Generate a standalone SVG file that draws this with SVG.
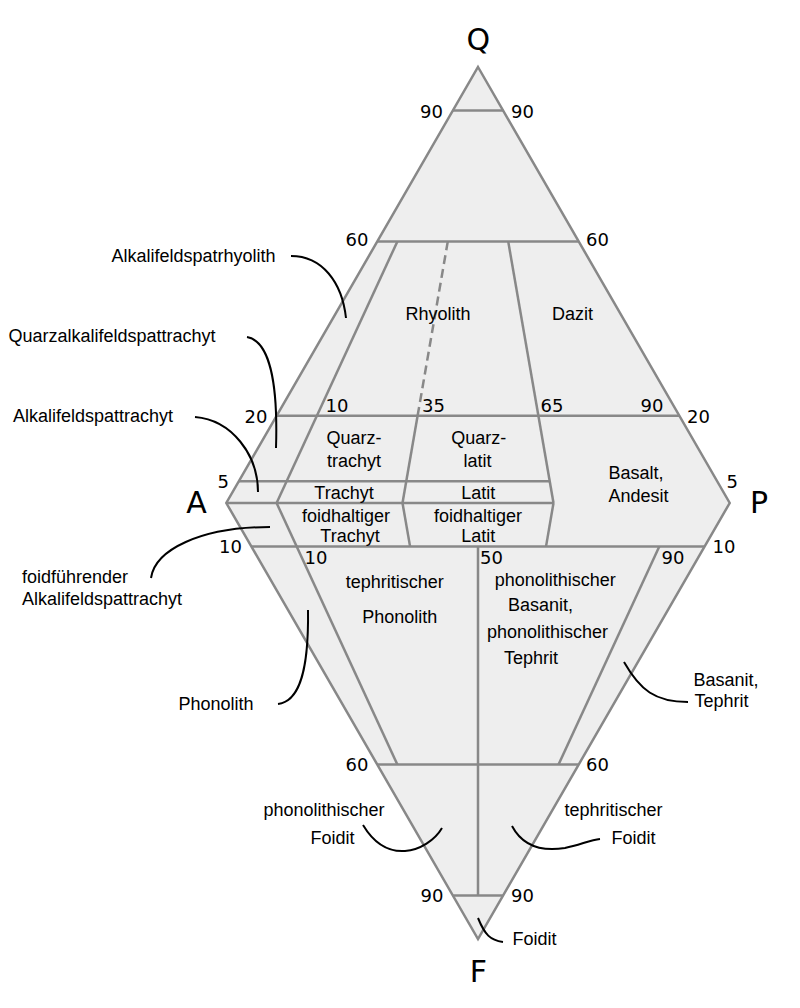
<svg xmlns="http://www.w3.org/2000/svg" width="800" height="1008" viewBox="0 0 800 1008">
<style>
.fld{fill:#eeeeee;stroke:#888888;stroke-width:2.5;stroke-linejoin:miter}
.ln{fill:none;stroke:#888888;stroke-width:2.5}
.dash{fill:none;stroke:#888888;stroke-width:2.5;stroke-dasharray:9,5}
.lead{fill:none;stroke:#000000;stroke-width:2}
.num{font-family:"DejaVu Sans",sans-serif;font-size:18px;fill:#000}
.vtx{font-family:"DejaVu Sans",sans-serif;font-size:30px;fill:#000;text-anchor:middle}
.lbl{font-family:"Liberation Sans",Arial,sans-serif;font-size:18px;fill:#000}
.mid{text-anchor:middle}
</style>
<rect width="800" height="1008" fill="#ffffff"/>
<g id="diagram-field">
<polygon class="fld" points="478,67 729.7,503 478,939 226.3,503"/>
</g>
<g id="connectors">
<line class="ln" x1="452.8" y1="110.6" x2="503.2" y2="110.6"/>
<line class="ln" x1="377.3" y1="241.4" x2="578.7" y2="241.4"/>
<line class="ln" x1="276.6" y1="415.8" x2="679.4" y2="415.8"/>
<line class="ln" x1="238.9" y1="481.2" x2="549.7" y2="481.2"/>
<line class="ln" x1="226.3" y1="503" x2="553.5" y2="503"/>
<line class="ln" x1="397.4" y1="241.4" x2="276.6" y2="503"/>
<line class="dash" x1="447.8" y1="241.4" x2="417.6" y2="415.8"/>
<line class="ln" x1="417.6" y1="415.8" x2="402.5" y2="503"/>
<line class="ln" x1="508.2" y1="241.4" x2="553.5" y2="503"/>
<line class="ln" x1="251.5" y1="546.6" x2="704.5" y2="546.6"/>
<line class="ln" x1="377.3" y1="764.6" x2="578.7" y2="764.6"/>
<line class="ln" x1="453.2" y1="895.4" x2="502.8" y2="895.4"/>
<line class="ln" x1="276.6" y1="503" x2="397.4" y2="764.6"/>
<line class="ln" x1="402.5" y1="503" x2="410.1" y2="546.6"/>
<line class="ln" x1="553.5" y1="503" x2="546" y2="546.6"/>
<line class="ln" x1="478" y1="546.6" x2="478" y2="895.4"/>
<line class="ln" x1="659.3" y1="546.6" x2="558.5" y2="764.6"/>
<path class="lead" d="M291,256 C322,256 342,282 346,318"/>
<path class="lead" d="M247,337 C270,341 278,385 276,448"/>
<path class="lead" d="M195,417 C232,420 258,455 258,492"/>
<path class="lead" d="M270,527 C200,527 155,550 151,578"/>
<path class="lead" d="M308,610 C309,680 296,702 278,704"/>
<path class="lead" d="M624,662 C640,690 655,702 688,702"/>
<path class="lead" d="M363,825 C375,845 390,852 405,851 C420,850 435,840 442,828"/>
<path class="lead" d="M512,826 C522,845 540,852 565,848 C580,845 590,840 600,839"/>
<path class="lead" d="M478,918 C485,935 490,940 503,942"/>
</g>
<g id="vertices">
<text class="vtx" x="478.3" y="50">Q</text>
<text class="vtx" x="196.5" y="513.3">A</text>
<text class="vtx" x="759" y="513.3">P</text>
<text class="vtx" x="478.5" y="982">F</text>
</g>
<g id="scale-numbers" class="num">
<text x="420" y="117.5">90</text>
<text x="511" y="117.5">90</text>
<text x="345.5" y="246">60</text>
<text x="586" y="246">60</text>
<text x="244.5" y="422.5">20</text>
<text x="687" y="422.5">20</text>
<text x="217.5" y="488.3">5</text>
<text x="726.5" y="488.3">5</text>
<text x="325.5" y="412">10</text>
<text x="422" y="412">35</text>
<text x="540.5" y="412">65</text>
<text x="640.5" y="412">90</text>
<text x="219" y="553.3">10</text>
<text x="712.5" y="553.3">10</text>
<text x="304.5" y="564">10</text>
<text x="480" y="564">50</text>
<text x="661.5" y="564">90</text>
<text x="345.5" y="771">60</text>
<text x="586" y="771">60</text>
<text x="420.5" y="901.7">90</text>
<text x="511" y="901.7">90</text>
</g>
<g id="field-labels" class="lbl">
<text class="mid" x="438" y="320">Rhyolith</text>
<text class="mid" x="572.5" y="320">Dazit</text>
<text class="mid" x="354" y="444.3">Quarz-</text>
<text class="mid" x="354" y="466.7">trachyt</text>
<text class="mid" x="478.7" y="444.3">Quarz-</text>
<text class="mid" x="477.5" y="466.7">latit</text>
<text class="mid" x="344" y="499">Trachyt</text>
<text class="mid" x="478.3" y="499">Latit</text>
<text class="mid" x="346" y="521.7">foidhaltiger</text>
<text class="mid" x="350" y="541.7">Trachyt</text>
<text class="mid" x="478" y="521.7">foidhaltiger</text>
<text class="mid" x="478.3" y="541.7">Latit</text>
<text x="608.5" y="479.3">Basalt,</text>
<text x="608.5" y="501.7">Andesit</text>
<text class="mid" x="394.7" y="588.3">tephritischer</text>
<text class="mid" x="399.8" y="622.7">Phonolith</text>
<text class="mid" x="555.3" y="585.7">phonolithischer</text>
<text class="mid" x="540.5" y="611">Basanit,</text>
<text class="mid" x="547.5" y="637.7">phonolithischer</text>
<text class="mid" x="531" y="664.3">Tephrit</text>
</g>
<g id="callout-labels" class="lbl">
<text x="111.5" y="261.7">Alkalifeldspatrhyolith</text>
<text x="8.5" y="342.3">Quarzalkalifeldspattrachyt</text>
<text x="13" y="422.3">Alkalifeldspattrachyt</text>
<text x="22" y="582.7">foidführender</text>
<text x="22" y="605">Alkalifeldspattrachyt</text>
<text x="178.5" y="710">Phonolith</text>
<text x="693.5" y="686">Basanit,</text>
<text x="694.5" y="706.7">Tephrit</text>
<text x="263.5" y="816">phonolithischer</text>
<text x="310.5" y="844">Foidit</text>
<text x="564.5" y="816">tephritischer</text>
<text x="611.5" y="844">Foidit</text>
<text x="512.5" y="945">Foidit</text>
</g>
</svg>
